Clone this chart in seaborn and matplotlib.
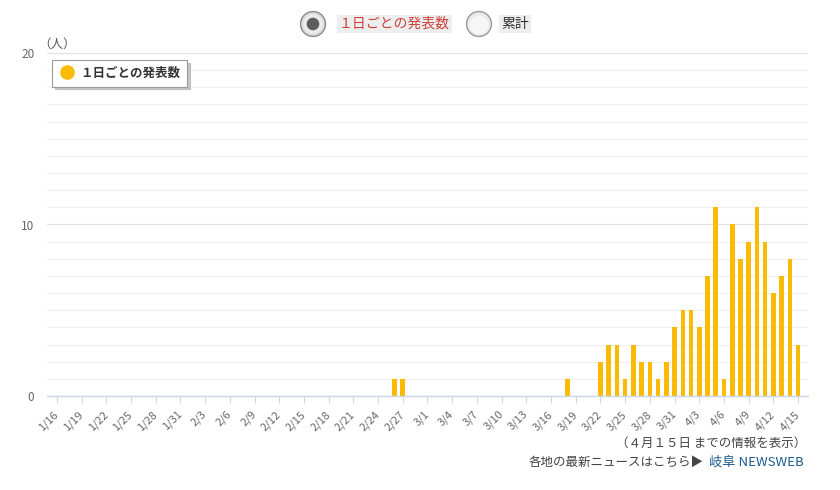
import matplotlib
matplotlib.use("Agg")
import matplotlib.pyplot as plt
import seaborn as sns
import pandas as pd
from matplotlib.lines import Line2D
from matplotlib.patches import Circle
from matplotlib.ticker import MultipleLocator

# ---------------- data ----------------
dates = [f"{d.month}/{d.day}" for d in pd.date_range("2020-01-16", "2020-04-15")]

counts = [
    # 1/16 - 1/31
    0, 0, 0, 0, 0, 0, 0, 0, 0, 0, 0, 0, 0, 0, 0, 0,
    # 2/1 - 2/29
    0, 0, 0, 0, 0, 0, 0, 0, 0, 0, 0, 0, 0, 0, 0, 0, 0, 0, 0, 0,
    0, 0, 0, 0, 0, 1, 1, 0, 0,
    # 3/1 - 3/31
    0, 0, 0, 0, 0, 0, 0, 0, 0, 0, 0, 0, 0, 0, 0, 0, 0, 1, 0, 0,
    0, 2, 3, 3, 1, 3, 2, 2, 1, 2, 4,
    # 4/1 - 4/15
    5, 5, 4, 7, 11, 1, 10, 8, 9, 11, 9, 6, 7, 8, 3,
]

tick_labels = ["1/16", "1/19", "1/22", "1/25", "1/28", "1/31", "2/3", "2/6",
               "2/9", "2/12", "2/15", "2/18", "2/21", "2/24", "2/27", "3/1",
               "3/4", "3/7", "3/10", "3/13", "3/16", "3/19", "3/22", "3/25",
               "3/28", "3/31", "4/3", "4/6", "4/9", "4/12", "4/15"]
y_ticks = [0, 10, 20]
series_name = "１日ごとの発表数"

df = pd.DataFrame({"date": dates, "count": counts})

# ---------------- style ----------------
sns.set_theme(style="white")
plt.rcParams["font.family"] = ["Noto Sans CJK JP", "DejaVu Sans"]

BAR = "#F9BB06"
W, H = 840, 490
fig = plt.figure(figsize=(W / 100, H / 100), dpi=100)
fig.patch.set_facecolor("white")

ax = fig.add_axes([47 / W, 94 / H, 761 / W, 343 / H])
sns.barplot(data=df, x="date", y="count", order=dates, color=BAR,
            saturation=1, width=0.56, ax=ax, zorder=3, linewidth=0)

ax.set_xlim(-1.2, len(dates) - 1 + 1.2)
ax.set_ylim(0, 20)
ax.set_xlabel("")
ax.set_ylabel("")

tick_pos = [dates.index(t) for t in tick_labels]
ax.set_xticks(tick_pos)
ax.set_xticklabels(tick_labels, rotation=45, ha="right", va="center",
                   rotation_mode="anchor", fontsize=8, color="#666666")
ax.tick_params(axis="x", which="major", bottom=True, length=5, width=0.8,
               color="#ccd6eb", pad=7)

ax.set_yticks(y_ticks)
ax.set_yticklabels([str(v) for v in y_ticks], fontsize=8.5, color="#666666")
ax.yaxis.set_minor_locator(MultipleLocator(1))
ax.tick_params(axis="y", which="both", left=False, length=0, pad=9)

ax.grid(which="major", axis="y", color="#e2e2e2", lw=0.9, zorder=0)
ax.grid(which="minor", axis="y", color="#f0f0f0", lw=0.8, zorder=0)
ax.grid(which="both", axis="x", visible=False)
ax.set_axisbelow(True)

for s in ["top", "right", "left"]:
    ax.spines[s].set_visible(False)
ax.spines["bottom"].set_color("#ccd6eb")
ax.spines["bottom"].set_linewidth(1)
ax.spines["bottom"].set_zorder(4)

# legend
handle = Line2D([], [], marker="o", ls="none", markersize=9.5,
                markerfacecolor=BAR, markeredgecolor=BAR)
leg = ax.legend([handle], [series_name], loc="upper left",
                bbox_to_anchor=(0.007, 0.98), borderaxespad=0,
                frameon=True, fancybox=False,
                shadow={"color": "#b0b0b0", "alpha": 0.7},
                prop={"weight": "bold", "size": 9},
                handletextpad=0.5, borderpad=0.55, handlelength=1.2,
                edgecolor="#9a9a9a", facecolor="white", framealpha=1)
leg.get_frame().set_linewidth(0.8)
for t in leg.get_texts():
    t.set_color("#333333")

# ---------------- overlay (pixel coordinates) ----------------
ov = fig.add_axes([0, 0, 1, 1], zorder=10)
ov.set_xlim(0, W)
ov.set_ylim(H, 0)
ov.axis("off")
ov.patch.set_alpha(0)

# radio button 1 (selected)
ov.add_patch(Circle((313, 24), 12.5, fc="#d8d8d8", ec="#8c8c8c", lw=1))
ov.add_patch(Circle((313, 24), 10, fc="#ececec", ec="none"))
ov.add_patch(Circle((313, 24), 6.3, fc="#5e5e5e", ec="none"))
ov.text(339, 24, series_name, fontsize=10, color="#cc3f3a", va="center",
        ha="left", bbox=dict(boxstyle="square,pad=0.15", fc="#eeeeee", ec="none"))

# radio button 2
ov.add_patch(Circle((479, 24), 12.5, fc="#e9e9e9", ec="#9a9a9a", lw=1))
ov.add_patch(Circle((479, 25), 9.5, fc="#f6f6f6", ec="none"))
ov.text(501, 24, "累計", fontsize=10, color="#333333", va="center", ha="left",
        bbox=dict(boxstyle="square,pad=0.15", fc="#eeeeee", ec="none"))

# unit label
ov.text(38, 44, "（人）", fontsize=9, color="#555555", va="center", ha="left")

# footer texts
ov.text(806, 443, "（４月１５日 までの情報を表示）", fontsize=9, color="#444444",
        va="center", ha="right")
ov.text(704, 462, "各地の最新ニュースはこちら▶", fontsize=9, color="#444444",
        va="center", ha="right")
ov.text(709, 462, "岐阜 NEWSWEB", fontsize=9.5, color="#1d5a8c",
        va="center", ha="left")

fig.savefig("out.png", dpi=100, facecolor="white")
